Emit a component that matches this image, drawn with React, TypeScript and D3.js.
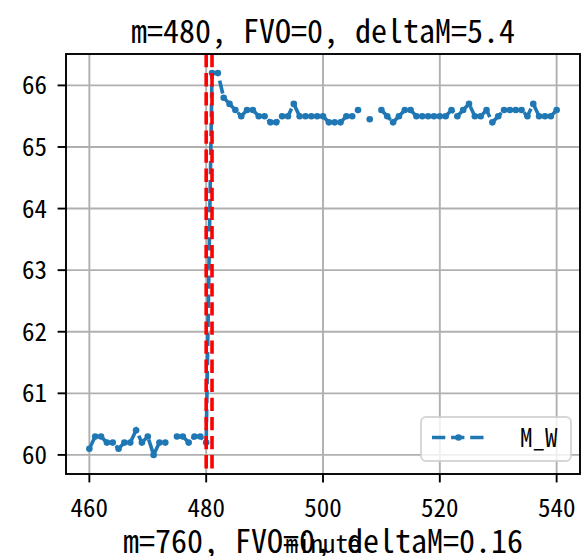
import React from "react";
import * as d3 from "d3";

const minutes: number[] = d3.range(460, 541);
const mwValues: (number | null)[] = [
  60.1, 60.3, 60.3, 60.2, 60.2, 60.1, 60.2, 60.2, 60.4, 60.2,
  60.3, 60.0, 60.2, 60.2, null, 60.3, 60.3, 60.2, 60.3, 60.3,
  60.2, 66.2, 66.2, 65.8, 65.7, 65.6, 65.5, 65.6, 65.6, 65.5,
  65.5, 65.4, 65.4, 65.5, 65.5, 65.7, 65.5, 65.5, 65.5, 65.5,
  65.5, 65.4, 65.4, 65.4, 65.5, 65.5, 65.6, null, 65.45, null,
  65.6, 65.5, 65.4, 65.5, 65.6, 65.6, 65.5, 65.5, 65.5, 65.5,
  65.5, 65.5, 65.6, 65.5, 65.6, 65.7, 65.5, 65.5, 65.6, 65.4,
  65.5, 65.6, 65.6, 65.6, 65.6, 65.5, 65.7, 65.5, 65.5, 65.5,
  65.6,
];
const changeLines: number[] = [480, 481];
const xTicks: number[] = [460, 480, 500, 520, 540];
const yTicks: number[] = [60, 61, 62, 63, 64, 65, 66];
const titleText = "m=480, FVO=0, deltaM=5.4";
const nextTitleText = "m=760, FVO=0, deltaM=0.16";
const xLabelText = "minute";
const seriesName = "M_W";

const FONT = "'Noto Sans Mono CJK SC', 'Noto Sans CJK SC', 'DejaVu Sans Mono', monospace";
const BLUE = "#1f77b4";

export default function App() {
  const W = 588, H = 556;
  const L = 66, R = 580, T = 54, B = 474;
  const pts = minutes.map((m, i) => ({ m, v: mwValues[i] }));
  const valid = pts.filter((p) => p.v !== null) as { m: number; v: number }[];
  const [xmin, xmax] = d3.extent(minutes) as [number, number];
  const [ymin, ymax] = d3.extent(valid, (d) => d.v) as [number, number];
  const xm = (xmax - xmin) * 0.05, ym = (ymax - ymin) * 0.05;
  const x = d3.scaleLinear().domain([xmin - xm, xmax + xm]).range([L, R]);
  const y = d3.scaleLinear().domain([ymin - ym, ymax + ym]).range([B, T]);
  const line = d3
    .line<{ m: number; v: number | null }>()
    .defined((d) => d.v !== null)
    .x((d) => x(d.m))
    .y((d) => y(d.v as number));

  const lw = 3.6;
  const dash = "13.3,5.8";
  const mr = 3.3;
  return (
    <svg width={W} height={H} style={{ position: "absolute", left: 0, top: 0 }} fontFamily={FONT}>
      <rect x={0} y={0} width={W} height={H} fill="#fff" />
      <defs>
        <clipPath id="ax">
          <rect x={L} y={T} width={R - L} height={B - T} />
        </clipPath>
      </defs>
      {xTicks.map((t) => (
        <line key={"gx" + t} x1={x(t)} x2={x(t)} y1={T} y2={B} stroke="#b0b0b0" strokeWidth={1.9} />
      ))}
      {yTicks.map((t) => (
        <line key={"gy" + t} x1={L} x2={R} y1={y(t)} y2={y(t)} stroke="#b0b0b0" strokeWidth={1.9} />
      ))}
      <g clipPath="url(#ax)">
        <path d={line(pts) || ""} fill="none" stroke={BLUE} strokeWidth={lw} strokeDasharray={dash} />
        {valid.map((p) => (
          <circle key={"p" + p.m} cx={x(p.m)} cy={y(p.v)} r={mr} fill={BLUE} />
        ))}
        {changeLines.map((c) => (
          <line key={"c" + c} x1={x(c)} x2={x(c)} y1={T} y2={B} stroke="#ff0000" strokeWidth={3.6} strokeDasharray="13.3,5.8" />
        ))}
      </g>
      <rect x={L} y={T} width={R - L} height={B - T} fill="none" stroke="#000" strokeWidth={1.9} />
      {xTicks.map((t) => (
        <g key={"xt" + t}>
          <line x1={x(t)} x2={x(t)} y1={B} y2={B + 8.4} stroke="#000" strokeWidth={1.9} />
          <text x={x(t)} y={517} textAnchor="middle" fontSize={25} fill="#000">{t}</text>
        </g>
      ))}
      {yTicks.map((t) => (
        <g key={"yt" + t}>
          <line x1={L - 8.4} x2={L} y1={y(t)} y2={y(t)} stroke="#000" strokeWidth={1.9} />
          <text x={47} y={y(t)} dy="0.36em" textAnchor="end" fontSize={25} fill="#000">{t}</text>
        </g>
      ))}
      <text x={(L + R) / 2} y={43} textAnchor="middle" fontSize={32} fill="#000">{titleText}</text>
      <text x={(L + R) / 2} y={553} textAnchor="middle" fontSize={25} fill="#000">{xLabelText}</text>
      <text x={(L + R) / 2} y={553} textAnchor="middle" fontSize={32} fill="#000">{nextTitleText}</text>
      <g>
        <rect x={421} y={417} width={150} height={44} rx={5} ry={5} fill="#fff" fillOpacity={0.8} stroke="#cccccc" strokeOpacity={0.8} strokeWidth={1.9} />
        <line x1={432} x2={485} y1={437.5} y2={437.5} stroke={BLUE} strokeWidth={lw} strokeDasharray={dash} />
        <circle cx={458.5} cy={437.5} r={mr} fill={BLUE} />
        <text x={520} y={447} fontSize={25} fill="#000">{seriesName}</text>
      </g>
    </svg>
  );
}
